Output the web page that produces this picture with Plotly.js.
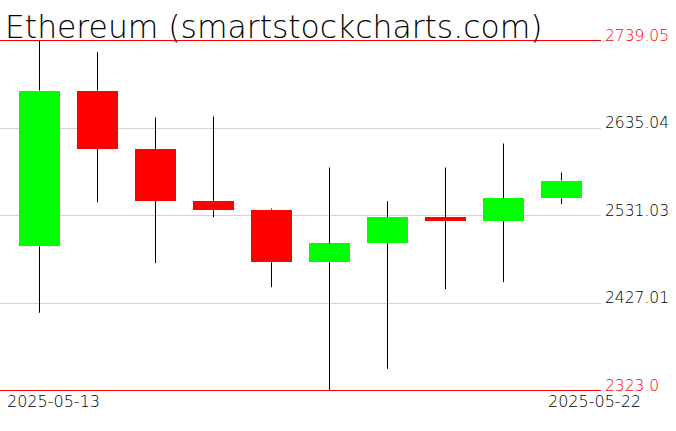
<!DOCTYPE html>
<html>
<head>
<meta charset="utf-8">
<script src="https://cdn.plot.ly/plotly-3.0.1.min.js"></script>
<style>html,body{margin:0;padding:0;background:#fff;}#chart{width:676px;height:431px;}</style>
</head>
<body>
<div id="chart"></div>
<script>
// ---- data ----
const dates = ['2025-05-13','2025-05-14','2025-05-15','2025-05-16','2025-05-17',
               '2025-05-18','2025-05-19','2025-05-20','2025-05-21','2025-05-22'];
const openP  = [2494.2, 2679.6, 2610.2, 2548.5, 2537.8, 2475.5, 2497.9, 2529.2, 2524.3, 2551.4];
const closeP = [2679.6, 2610.2, 2548.5, 2537.8, 2475.5, 2497.9, 2529.2, 2524.3, 2551.4, 2572.6];
const highP  = [2739.05, 2725.1, 2647.5, 2648.7, 2539.3, 2588.1, 2548.0, 2588.1, 2616.6, 2582.1];
const lowP   = [2415.4, 2546.8, 2474.3, 2529.0, 2445.8, 2323.0, 2348.8, 2443.4, 2451.8, 2544.5];
const tickVals  = [2323.0, 2427.01, 2531.03, 2635.04, 2739.05];
const tickTexts = ['2323.0', '2427.01', '2531.03', '2635.04', '2739.05'];
const titleText = 'Ethereum (smartstockcharts.com)';

// ---- build traces ----
const UP = '#00ff00', DOWN = '#ff0000';
const bodyBase = openP.map((o, i) => Math.min(o, closeP[i]));
const bodyLen = openP.map((o, i) => Math.abs(closeP[i] - o));
const bodyCol = openP.map((o, i) => closeP[i] >= o ? UP : DOWN);

const wx = [], wy = [];
dates.forEach((d, i) => {
  const top = Math.max(openP[i], closeP[i]);
  const bot = Math.min(openP[i], closeP[i]);
  wx.push(d, d, null, d, d, null);
  wy.push(highP[i], top, null, bot, lowP[i], null);
});

const bodies = {
  type: 'bar', x: dates, y: bodyLen, base: bodyBase,
  marker: {color: bodyCol, line: {width: 0}}, width: 0.69,
  hoverinfo: 'skip', showlegend: false
};
const wicks = {
  type: 'scatter', mode: 'lines', x: wx, y: wy,
  line: {color: '#000000', width: 1}, hoverinfo: 'skip', showlegend: false
};

const maxV = Math.max(...highP), minV = Math.min(...lowP);
const pxPerUnit = 350 / (maxV - minV);

const tickTextStyled = tickTexts.map((t, i) =>
  (i === 0 || i === tickTexts.length - 1) ? '<span style="color:#ff0000">' + t + '</span>' : t);

const FONT = 'DejaVu Sans';
const layout = {
  width: 676, height: 431,
  margin: {l: 0, r: 75, t: 35, b: 36, pad: 0},
  paper_bgcolor: '#ffffff', plot_bgcolor: '#ffffff',
  font: {family: FONT, color: '#000000', weight: 200},
  title: {
    text: titleText, xref: 'container', x: 5/676, xanchor: 'left',
    yref: 'container', y: 1 - 27/431, yanchor: 'middle',
    font: {family: FONT, size: 31.4, color: '#000000', weight: 200}
  },
  showlegend: false,
  bargap: 0,
  xaxis: {
    type: 'category', range: [-39.5/58, -39.5/58 + 601/58], showgrid: false, zeroline: false,
    showline: false, showticklabels: false, ticks: '', fixedrange: true
  },
  yaxis: {
    side: 'right', range: [minV - 4.5 / pxPerUnit, maxV + 5.5 / pxPerUnit],
    tickmode: 'array', tickvals: tickVals, ticktext: tickTextStyled,
    showgrid: true, gridcolor: '#d3d3d3', gridwidth: 1,
    zeroline: false, showline: false, ticks: '',
    ticklabelshift: -5, ticklabelstandoff: 3,
    tickfont: {family: FONT, size: 15.5, color: '#000000', weight: 200}
  },
  shapes: [
    {type: 'line', xref: 'paper', x0: 0, x1: 1, yref: 'y', y0: maxV, y1: maxV,
     line: {color: '#ff0000', width: 1}, layer: 'above'},
    {type: 'line', xref: 'paper', x0: 0, x1: 1, yref: 'y', y0: minV, y1: minV,
     line: {color: '#ff0000', width: 1}, layer: 'above'}
  ],
  annotations: [
    {text: dates[0], xref: 'paper', x: 5/601, xanchor: 'left', yref: 'paper', y: 0,
     yanchor: 'middle', yshift: -6, showarrow: false,
     font: {family: FONT, size: 16, color: '#000000', weight: 200}},
    {text: dates[dates.length - 1], xref: 'paper', x: 594/601, xanchor: 'center', yref: 'paper', y: 0,
     yanchor: 'middle', yshift: -6, showarrow: false,
     font: {family: FONT, size: 16, color: '#000000', weight: 200}}
  ]
};

Plotly.newPlot('chart', [bodies, wicks], layout, {displayModeBar: false, staticPlot: true});
</script>
</body>
</html>
